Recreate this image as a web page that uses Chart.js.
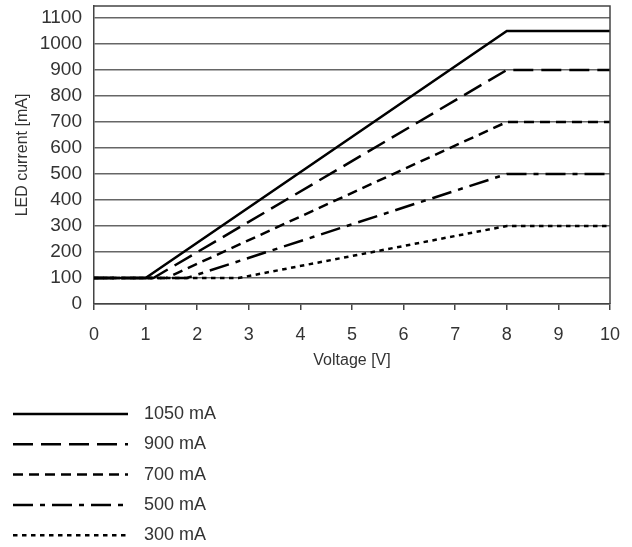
<!DOCTYPE html>
<html>
<head>
<meta charset="utf-8">
<script src="https://cdn.jsdelivr.net/npm/chart.js@4"></script>
<style>
  html, body { margin: 0; padding: 0; background: #fff; }
  #wrap { width: 632px; height: 547px; }
</style>
</head>
<body>
<div id="wrap"><canvas id="ledChart"></canvas></div>
<script>
// series values: (voltage, current) pairs
const seriesLabels = ["1050 mA", "900 mA", "700 mA", "500 mA", "300 mA"];
const v1050 = [0, 1, 8, 10];
const i1050 = [100, 100, 1050, 1050];
const v900 = [0, 1.15, 8, 10];
const i900 = [100, 100, 900, 900];
const v700 = [0, 1.4, 8, 10];
const i700 = [100, 100, 700, 700];
const v500 = [0, 1.8, 8, 10];
const i500 = [100, 100, 500, 500];
const v300 = [0, 2.8, 8, 10];
const i300 = [100, 100, 300, 300];

const yTicks = [0, 100, 200, 300, 400, 500, 600, 700, 800, 900, 1000, 1100];

const FONT = "'Liberation Sans Narrow', 'Liberation Sans', Arial, sans-serif";
const TEXT = "#333";

const dashes = [[], [20, 8], [10, 6], [20, 7, 5, 7], [4.5, 4.5]];
const volts = [v1050, v900, v700, v500, v300];
const amps = [i1050, i900, i700, i500, i300];

function points(xs, ys) {
  return xs.map((x, i) => ({ x: x, y: ys[i] }));
}

const datasets = seriesLabels.map((label, k) => ({
  label: label,
  data: points(volts[k], amps[k]),
  borderColor: "#000",
  borderWidth: 2.5,
  borderDash: dashes[k],
  pointRadius: 0,
  fill: false,
  tension: 0
}));

// box around plot + vertical legend below
const framePlugin = {
  id: "frame",
  afterDatasetsDraw(chart) {
    const a = chart.chartArea;
    const ctx = chart.ctx;
    ctx.save();
    ctx.strokeStyle = "#444";
    ctx.lineWidth = 1.5;
    ctx.beginPath();
    ctx.moveTo(a.left, a.top);
    ctx.lineTo(a.right, a.top);
    ctx.lineTo(a.right, a.bottom);
    ctx.stroke();
    ctx.restore();
  },
  afterDraw(chart) {
    const ctx = chart.ctx;
    ctx.save();
    chart.data.datasets.forEach((ds, i) => {
      const y = 414 + i * 30.3;
      ctx.strokeStyle = "#000";
      ctx.lineWidth = 2.5;
      ctx.setLineDash(ds.borderDash);
      ctx.beginPath();
      ctx.moveTo(13, y);
      ctx.lineTo(128, y);
      ctx.stroke();
      ctx.setLineDash([]);
      ctx.fillStyle = TEXT;
      ctx.font = "18px " + FONT;
      ctx.textBaseline = "middle";
      ctx.textAlign = "left";
      ctx.fillText(ds.label, 144, y);
    });
    ctx.restore();
  }
};

new Chart(document.getElementById("ledChart"), {
  type: "line",
  data: { datasets: datasets },
  plugins: [framePlugin],
  options: {
    responsive: true,
    maintainAspectRatio: false,
    animation: false,
    layout: { padding: { top: 6, right: 22, bottom: 173, left: 0 } },
    plugins: {
      legend: { display: false },
      tooltip: { enabled: false }
    },
    scales: {
      x: {
        type: "linear",
        min: 0,
        max: 10,
        ticks: { stepSize: 1, color: TEXT, font: { family: FONT, size: 18 }, padding: 14 },
        grid: { drawOnChartArea: false, drawTicks: true, tickLength: 6, color: "#444", lineWidth: 1.5 },
        border: { color: "#444", width: 1.5 },
        title: { display: true, text: "Voltage [V]", color: TEXT, font: { family: FONT, size: 16 }, padding: { top: 0 } },
        afterFit(scale) {
          scale.height = 70;
          scale.paddingLeft = 0;
          scale.paddingRight = 0;
        }
      },
      y: {
        min: 0,
        max: 1146,
        afterBuildTicks(axis) { axis.ticks = yTicks.map(v => ({ value: v })); },
        ticks: {
          autoSkip: false,
          color: TEXT,
          font: { family: FONT, size: 19 },
          padding: 12,
          callback: v => String(v)
        },
        grid: { color: "#666", lineWidth: 1.5, drawTicks: false },
        border: { color: "#444", width: 1.5 },
        title: { display: true, text: "LED current [mA]", color: TEXT, font: { family: FONT, size: 16 }, padding: { top: 13, bottom: 0 } },
        afterFit(scale) {
          scale.width = 94;
          scale.paddingTop = 0;
          scale.paddingBottom = 0;
        }
      }
    }
  }
});
</script>
</body>
</html>
